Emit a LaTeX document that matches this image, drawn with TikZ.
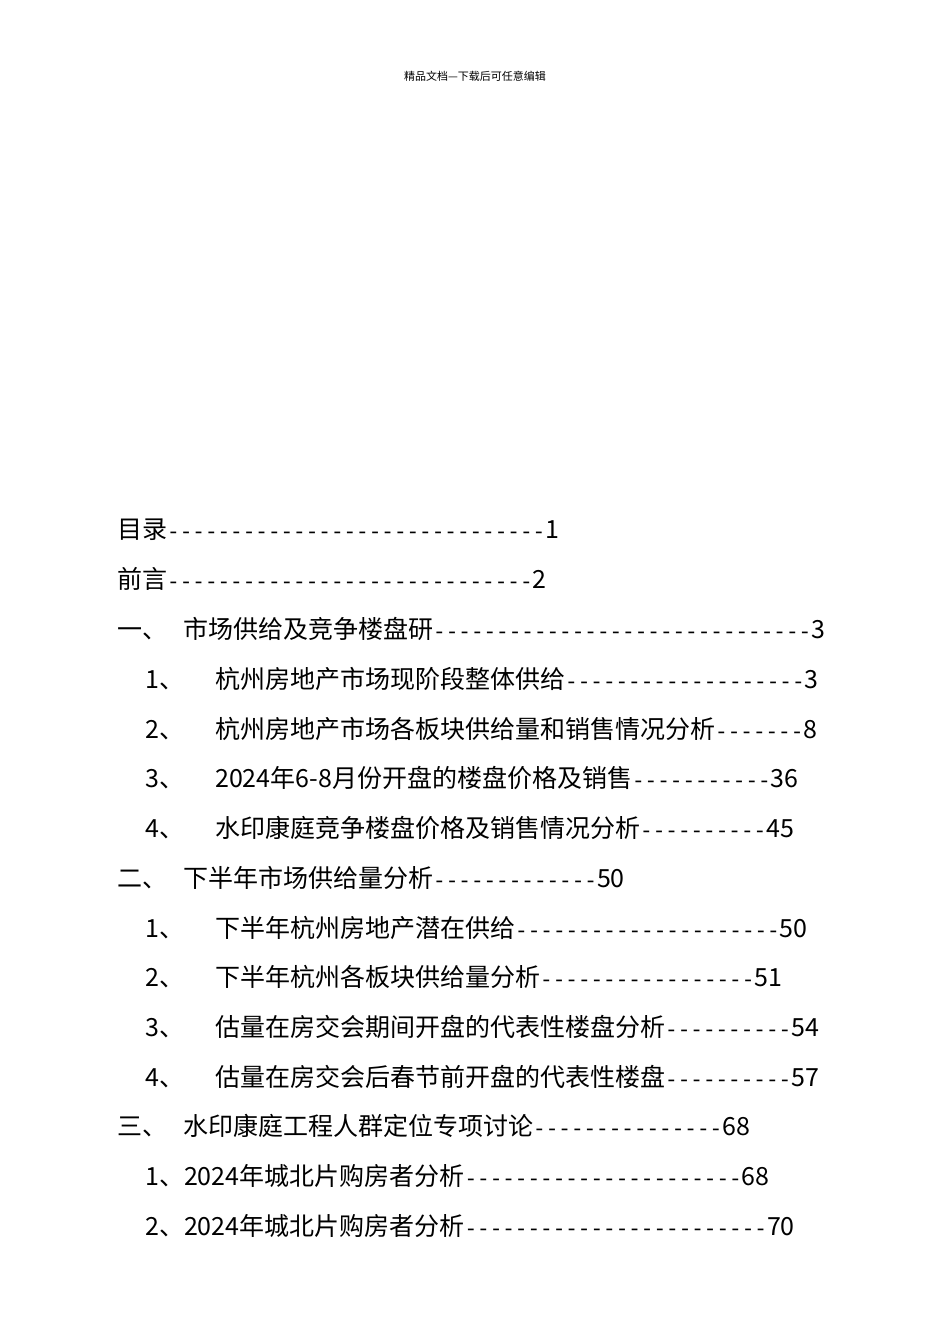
\documentclass[tikz,border=0pt]{standalone}
\usepackage{fontspec}
\setmainfont{Noto Sans CJK SC}
\newfontfamily\dashfont{Liberation Mono}
\newfontfamily\numfont{Noto Sans}
\newcommand{\ds}[1]{{\dashfont\fontsize{21}{21}\selectfont #1}}
\tikzset{toc/.style={anchor=base west,inner sep=0pt,font=\fontsize{25}{25}\selectfont}}
\begin{document}
\begin{tikzpicture}[x=1pt,y=-1pt]
\useasboundingbox (0,0) rectangle (950,1344);
\node[anchor=base,inner sep=0pt,font=\fontsize{11}{11}\selectfont] (hdr) at (475,80) {精品文档---下载后可任意编辑};
\node[toc] (l1) at (117,538) {目录\ds{------------------------------}1};
\node[toc] (l2) at (117,588) {前言\ds{-----------------------------}2};
\node[toc] (l3a) at (117,638) {一、};
\node[toc] (l3) at (183,638) {市场供给及竞争楼盘研\ds{------------------------------}3};
\node[toc] (l4a) at (145,688) {1、};
\node[toc] (l4) at (215,688) {杭州房地产市场现阶段整体供给\ds{-------------------}3};
\node[toc] (l5a) at (145,738) {2、};
\node[toc] (l5) at (215,738) {杭州房地产市场各板块供给量和销售情况分析\ds{-------}8};
\node[toc] (l6a) at (145,787) {3、};
\node[toc] (l6) at (215,787) {2024年6-8月份开盘的楼盘价格及销售\ds{-----------}36};
\node[toc] (l7a) at (145,837) {4、};
\node[toc] (l7) at (215,837) {水印康庭竞争楼盘价格及销售情况分析\ds{----------}45};
\node[toc] (l8a) at (117,887) {二、};
\node[toc] (l8) at (183,887) {下半年市场供给量分析\ds{-------------}50};
\node[toc] (l9a) at (145,937) {1、};
\node[toc] (l9) at (215,937) {下半年杭州房地产潜在供给\ds{---------------------}50};
\node[toc] (l10a) at (145,986) {2、};
\node[toc] (l10) at (215,986) {下半年杭州各板块供给量分析\ds{-----------------}51};
\node[toc] (l11a) at (145,1036) {3、};
\node[toc] (l11) at (215,1036) {估量在房交会期间开盘的代表性楼盘分析\ds{----------}54};
\node[toc] (l12a) at (145,1086) {4、};
\node[toc] (l12) at (215,1086) {估量在房交会后春节前开盘的代表性楼盘\ds{----------}57};
\node[toc] (l13a) at (117,1135) {三、};
\node[toc] (l13) at (183,1135) {水印康庭工程人群定位专项讨论\ds{---------------}68};
\node[toc] (l14) at (145,1185) {1、2024年城北片购房者分析\ds{----------------------}68};
\node[toc] (l15) at (145,1235) {2、2024年城北片购房者分析\ds{------------------------}70};
\end{tikzpicture}
\end{document}
